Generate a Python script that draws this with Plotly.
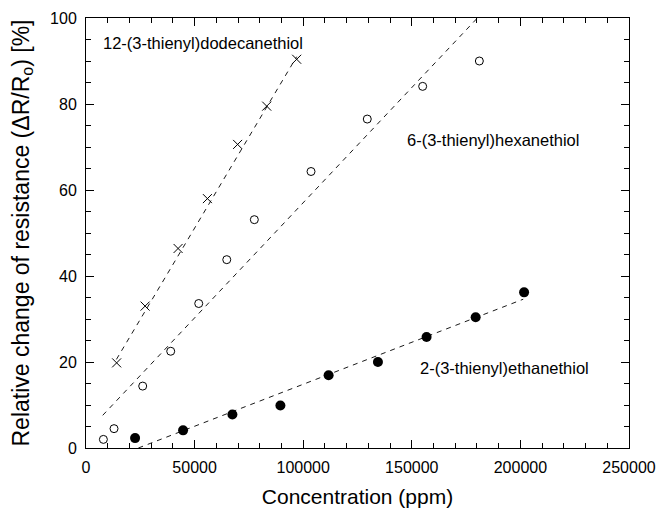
import plotly.graph_objects as go

# 12-(3-thienyl)dodecanethiol (crosses)
dodec_x = [14100, 27200, 42400, 55900, 69800, 83200, 97000]
dodec_y = [19.8, 33.0, 46.4, 58.0, 70.6, 79.5, 90.4]
dodec_fit_x = [14000, 97000]
dodec_fit_y = [20.6, 91.0]

# 6-(3-thienyl)hexanethiol (open circles)
hex_x = [8000, 12900, 26100, 39000, 51900, 64800, 77500, 103600, 129500, 155000, 181100]
hex_y = [2.0, 4.5, 14.4, 22.5, 33.6, 43.8, 53.1, 64.3, 76.5, 84.1, 90.0]
hex_fit_x = [7700, 180200]
hex_fit_y = [7.6, 100.0]

# 2-(3-thienyl)ethanethiol (filled circles)
eth_x = [22600, 44700, 67400, 89500, 111700, 134400, 156800, 179400, 201700]
eth_y = [2.3, 4.1, 7.8, 9.9, 16.9, 20.0, 25.8, 30.4, 36.2]
eth_fit_x = [24100, 201300]
eth_fit_y = [0.0, 34.6]

labels = ["12-(3-thienyl)dodecanethiol", "6-(3-thienyl)hexanethiol", "2-(3-thienyl)ethanethiol"]
label_x = [53900, 187400, 192800]
label_y = [94.3, 71.7, 18.7]

FONT = "Liberation Sans, Arial, sans-serif"
fig = go.Figure()

dash_line = dict(color="black", width=0.9, dash="5px,5px")
for fx, fy in [(dodec_fit_x, dodec_fit_y), (hex_fit_x, hex_fit_y), (eth_fit_x, eth_fit_y)]:
    fig.add_trace(go.Scatter(x=fx, y=fy, mode="lines", line=dash_line, showlegend=False, hoverinfo="skip"))

fig.add_trace(go.Scatter(x=dodec_x, y=dodec_y, mode="markers",
                         marker=dict(symbol="x-thin-open", size=9, color="black",
                                     line=dict(color="black", width=1)), showlegend=False))
fig.add_trace(go.Scatter(x=hex_x, y=hex_y, mode="markers",
                         marker=dict(symbol="circle-open", size=8, color="black",
                                     line=dict(color="black", width=1)), showlegend=False))
fig.add_trace(go.Scatter(x=eth_x, y=eth_y, mode="markers",
                         marker=dict(symbol="circle", size=10, color="black"), showlegend=False))

for t, x, y in zip(labels, label_x, label_y):
    fig.add_annotation(x=x, y=y, text=t, showarrow=False, font=dict(family=FONT, size=16.5, color="black"))

axis_common = dict(showgrid=False, zeroline=False, showline=True, linecolor="black", linewidth=1,
                   mirror="ticks", ticks="inside", ticklen=8, tickcolor="black", tickwidth=1,
                   automargin=False, ticklabelstandoff=5,
                   tickfont=dict(family=FONT, size=16, color="black"))

fig.update_xaxes(range=[0, 250000], dtick=50000, tickformat="d",
                 minor=dict(dtick=10000, ticks="inside", ticklen=5, tickcolor="black", tickwidth=1),
                 title=dict(text="Concentration (ppm)", font=dict(family=FONT, size=21, color="black"), standoff=14),
                 **axis_common)
fig.update_yaxes(range=[0, 100], dtick=20,
                 minor=dict(dtick=5, ticks="inside", ticklen=5, tickcolor="black", tickwidth=1),
                 title=dict(text="Relative change of resistance (ΔR/R<sub>o</sub>) [%]",
                            font=dict(family=FONT, size=23, color="black"), standoff=14),
                 **axis_common)

fig.update_layout(width=657, height=510, margin=dict(l=86, r=28, t=18, b=62),
                  plot_bgcolor="white", paper_bgcolor="white")

fig.write_html("out.html", config={"displayModeBar": False},
               post_script="document.body.style.margin='0';")
